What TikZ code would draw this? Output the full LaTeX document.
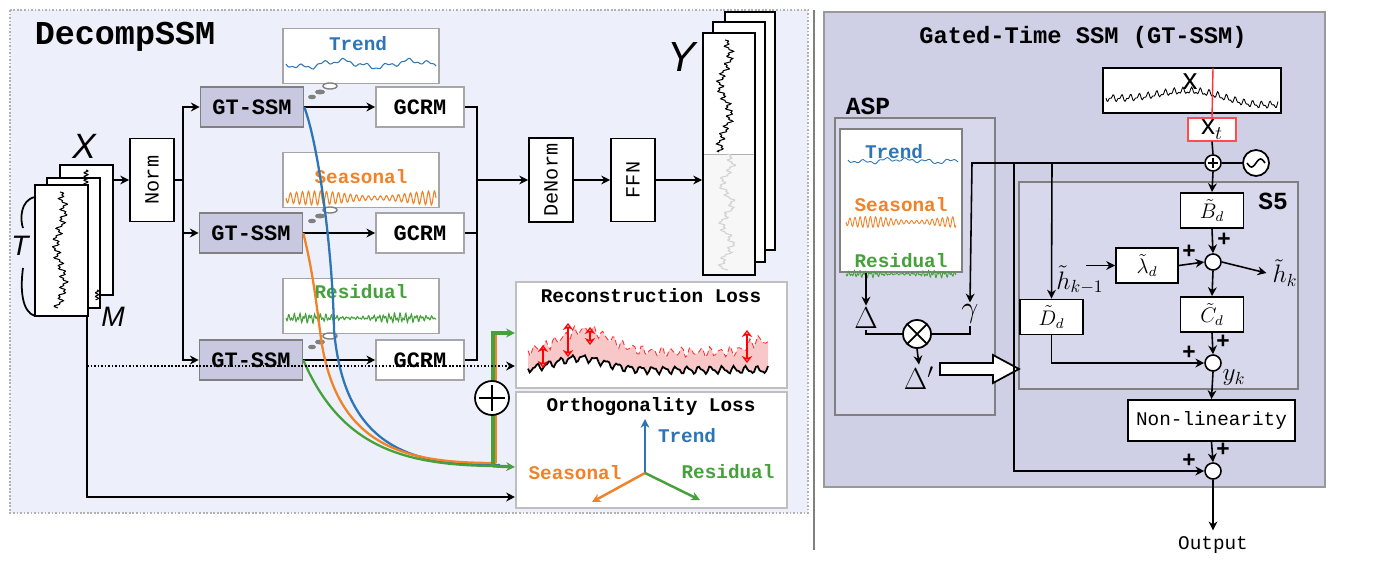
\documentclass[tikz,border=0pt]{standalone}
\usepackage{fontspec}
\usepackage{amsmath}
\newfontfamily\mono{Liberation Mono}
\newfontfamily\sansf{Liberation Sans}
\usetikzlibrary{arrows.meta,shapes.geometric,calc}
\definecolor{lpanel}{RGB}{237,240,250}
\definecolor{rpanel}{RGB}{207,207,230}
\definecolor{inner}{RGB}{216,216,236}
\definecolor{gtfill}{RGB}{200,200,224}
\definecolor{tblue}{RGB}{46,117,182}
\definecolor{torange}{RGB}{240,130,40}
\definecolor{tgreen}{RGB}{70,160,60}
\definecolor{pinkf}{RGB}{248,200,200}
\begin{document}
\begin{tikzpicture}[x=0.02cm,y=-0.02cm,
  arr/.style={-{Stealth[length=5pt,width=5pt]}},
  lw/.style={line width=0.9pt},
  bx/.style={draw,line width=1.1pt,fill=white,inner sep=0pt},
  gt/.style={draw=gray,line width=0.9pt,fill=gtfill,minimum width=2.06cm,minimum height=0.8cm,font=\mono\bfseries\fontsize{12.5}{12.5}\selectfont},
  gc/.style={draw=gray!70,line width=0.9pt,fill=white,minimum width=1.76cm,minimum height=0.8cm,font=\mono\bfseries\fontsize{12.5}{12.5}\selectfont},
  vb/.style={draw,line width=1.1pt,fill=white,minimum width=0.88cm,minimum height=1.66cm,font=\mono\fontsize{11.5}{11.5}\selectfont},
  comp/.style={draw=gray!70,line width=0.9pt,fill=white,minimum width=3.12cm,minimum height=1.1cm},
  ttl/.style={font=\mono\bfseries\fontsize{11}{11}\selectfont},
  sm/.style={draw,line width=0.9pt,circle,fill=white,minimum size=0.32cm,inner sep=0pt},
  mb/.style={draw,line width=1.1pt,fill=white,minimum width=1.26cm,minimum height=0.7cm,inner sep=0pt,font=\fontsize{12}{12}\selectfont},
  pl/.style={font=\sansf\bfseries\fontsize{13}{13}\selectfont},
]
\useasboundingbox (0,0) rectangle (1400,571);
\fill[white] (0,0) rectangle (1400,571);
% panels
\draw[gray!60,densely dotted,line width=1pt,fill=lpanel] (10,10) rectangle (808,513);
\draw[gray,line width=1.5pt] (814,10) -- (814,550);
\draw[gray!80,line width=1pt,fill=rpanel] (824,12) rectangle (1325,487);
% ============ LEFT ============
\node[font=\mono\bfseries\fontsize{19}{19}\selectfont] (title) at (125,37) {DecompSSM};
% X stack
\node[bx,minimum width=1.06cm,minimum height=2.6cm] (xb) at (86.5,230) {};
\node[bx,minimum width=1.06cm,minimum height=2.6cm] (xm) at (73.5,243) {};
\node[bx,minimum width=1.06cm,minimum height=2.62cm] (xf) at (61.5,250.5) {};
\draw[line width=0.6pt] plot[domain=0:116,samples=160] ({60+2.5*sin(\x*37)+1.5*sin(\x*97)+4*sin(\x*5)}, {192+\x});
\draw[line width=0.6pt] plot[domain=0:10,samples=30] ({97+1.5*sin(\x*97)}, {290+\x});
\draw[line width=0.6pt] plot[domain=0:15,samples=30] ({86+2*sin(\x*97)}, {170+\x});
\node[font=\sansf\itshape\fontsize{20}{20}\selectfont] (xl) at (84,146) {X};
\node[font=\sansf\itshape\fontsize{16}{16}\selectfont] (tl) at (20,246) {T};
\node[font=\sansf\itshape\fontsize{16}{16}\selectfont] (ml) at (113,317) {M};
\draw[line width=1pt] (35,197) .. controls (20,200) and (20,220) .. (23,228);
\draw[line width=1pt] (23,268) .. controls (20,290) and (22,312) .. (35,316);
% Norm
\node[vb] (norm) at (152,180) {\rotatebox{90}{Norm}};
\draw[arr,lw] (xb.east |- norm) -- (norm.west);
\coordinate (sp) at (183,180);
\draw[lw] (norm.east) -- (sp);
% GT-SSM / GCRM
\node[gt] (g1) at (252,107) {GT-SSM};
\node[gt] (g2) at (251,233) {GT-SSM};
\node[gt] (g3) at (251,360) {GT-SSM};
\node[gc] (c1) at (420,107) {GCRM};
\node[gc] (c2) at (420,233) {GCRM};
\node[gc] (c3) at (420,360) {GCRM};
\draw[arr,lw] (sp) |- (g1.west);
\draw[arr,lw] (sp) |- (g2.west);
\draw[arr,lw] (sp) |- (g3.west);
\foreach \i in {1,2,3}{\draw[arr,lw] (g\i.east) -- (c\i.west);}
\coordinate (mg) at (477,180);
\draw[lw] (c1.east) -| (mg);
\draw[lw] (c2.east) -| (mg);
\draw[lw] (c3.east) -| (mg);
\node[vb] (dn) at (551,180) {\rotatebox{90}{DeNorm}};
\node[vb] (ffn) at (633,180) {\rotatebox{90}{FFN}};
\draw[arr,lw] (mg) -- (dn.west);
\draw[arr,lw] (dn.east) -- (ffn.west);
% Y stack
\node[bx,minimum width=1.0cm,minimum height=4.76cm] (yb) at (750,131) {};
\node[bx,minimum width=1.04cm,minimum height=4.8cm] (ym) at (739,142) {};
\node[bx,minimum width=1.04cm,minimum height=4.84cm] (yf) at (729,154) {};
\fill[gray!6] (704,154) rectangle (754,274);
\draw[gray!60,line width=0.4pt] (704,154) -- (754,154);
\draw[line width=0.6pt] plot[domain=0:112,samples=140] ({725+2.5*sin(\x*41)+1.5*sin(\x*103)+5*sin(\x*6)}, {40+\x});
\draw[gray!35,line width=0.6pt] plot[domain=0:116,samples=140] ({727+2.5*sin(\x*41)+1.5*sin(\x*103)+5*sin(\x*9)}, {154+\x});
\draw[arr,lw] (ffn.east) -- (yf.west |- ffn.east);
\node[font=\sansf\itshape\fontsize{24}{24}\selectfont] (yl) at (682,57) {Y};
% component boxes
\node[comp] (tr) at (361,56) {};
\node[comp] (se) at (361,180) {};
\node[comp] (re) at (361,306) {};
\node[ttl,text=tblue] at (358,44) {Trend};
\node[ttl,text=torange] at (361,177) {Seasonal};
\node[ttl,text=tgreen] at (361,292) {Residual};
\draw[tblue,line width=0.6pt] plot[domain=0:150,samples=100] ({286+\x}, {64+3*sin(\x*5)+2*sin(\x*17)+1*sin(\x*43)});
\draw[torange,line width=0.6pt] plot[domain=0:150,samples=300] ({286+\x}, {198+(2+2.5*(1+sin(\x*3)))*sin(\x*60)});
\draw[tgreen,line width=0.6pt] plot[domain=0:150,samples=300] ({286+\x}, {318+(1.5+2*(1+sin(\x*4)))*sin(\x*97)*sin(\x*29+20)});
% bubbles
\foreach \yy in {86,210,336}{
  \draw[gray,fill=white,line width=0.8pt] (330,\yy) ellipse (7 and 3);
  \fill[gray] (320,\yy+6) ellipse (5 and 2.5);
  \fill[gray] (312,\yy+11) ellipse (4 and 2.3);
}
% losses
\node[draw=gray!50,line width=1.2pt,fill=white,minimum width=5.42cm,minimum height=2.12cm] (rec) at (651.5,335) {};
\node[draw=gray!50,line width=1.2pt,fill=white,minimum width=5.42cm,minimum height=2.32cm] (orth) at (651.5,450) {};
\node[ttl] at (651,296) {Reconstruction Loss};
\node[ttl] at (651,407) {Orthogonality Loss};
\fill[pinkf] plot[domain=0:240,samples=120] ({528+\x},{352-22*exp(-((\x-57)/35)^2)-12*exp(-((\x-232)/15)^2)+4*sin(\x*37)+2*sin(\x*53)}) -- plot[domain=240:0,samples=120] ({528+\x},{370-12*exp(-((\x-52)/35)^2)+3*sin(\x*31)+1.5*sin(\x*61)});
\draw[red!80,densely dashed,line width=0.5pt] plot[domain=0:240,samples=120] ({528+\x},{352-22*exp(-((\x-57)/35)^2)-12*exp(-((\x-232)/15)^2)+4*sin(\x*37)+2*sin(\x*53)});
\draw[line width=1pt] plot[domain=0:240,samples=140] ({528+\x},{370-12*exp(-((\x-52)/35)^2)+3*sin(\x*31)+1.5*sin(\x*61)});
\foreach \xx/\ya/\yb in {543/345/368,568/323/357,590/327/345,747/330/363}{
  \draw[red,line width=0.8pt,{Stealth[length=4pt,width=6pt,open]}-{Stealth[length=4pt,width=6pt,open]}] (\xx,\ya) -- (\xx,\yb);
}
\coordinate (oo) at (645,473);
\draw[tblue,line width=1.4pt,arr] (oo) -- (645,419);
\draw[torange,line width=1.4pt,arr] (oo) -- (592,502);
\draw[tgreen,line width=1.4pt,arr] (oo) -- (700,500);
\node[ttl,text=tblue] at (687,436) {Trend};
\node[ttl,text=torange] at (575,473) {Seasonal};
\node[ttl,text=tgreen] at (728,472) {Residual};
% colored curves
\draw[tblue,line width=1.3pt] (g1.east) .. controls (320,150) and (333,260) .. (334,330) .. controls (345,455) and (420,465) .. (500,465);
\draw[torange,line width=1.3pt] (g2.east) .. controls (315,280) and (318,320) .. (322,345) .. controls (340,450) and (410,463) .. (496,463);
\draw[torange,line width=1.3pt] (496,463) -- (496,333);
\draw[tgreen,line width=1.3pt] (g3.east) .. controls (340,445) and (400,465) .. (493,466);
\draw[tgreen,line width=1.8pt,arr] (493,466) -- (493,333) -- (rec.west |- 0,333);
\draw[tgreen,line width=1.8pt,arr] (493,466) -- (orth.west |- 0,467);
\node[draw,line width=1pt,circle,fill=white,minimum size=0.68cm,inner sep=0pt] (plus) at (492,398) {};
\draw[line width=1pt] ($(plus)+(0,-13)$) -- ($(plus)+(0,13)$) ($(plus)+(-13,0)$) -- ($(plus)+(13,0)$);
% x bypass lines
\coordinate (dt) at (87,366);
\coordinate (bl) at (87,497);
\draw[densely dotted,line width=1pt,arr] (dt) -- (rec.west |- dt);
\draw[lw,arr] (xf.south east -| bl) -- (bl) -- (orth.west |- bl);
% ============ RIGHT ============
\node[font=\mono\bfseries\fontsize{13.5}{13.5}\selectfont] (rt) at (1083,37) {Gated-Time SSM (GT-SSM)};
\node[font=\mono\bfseries\fontsize{14}{14}\selectfont] (aspl) at (868,106) {ASP};
\draw[gray,line width=0.8pt,fill=inner] (835,118) rectangle (995,415);
\draw[gray,line width=0.8pt,fill=inner] (1019,182) rectangle (1298,389);
\node[font=\mono\bfseries\fontsize{14}{14}\selectfont] (s5l) at (1273,201) {S5};
% ASP components
\node[draw=gray,line width=0.9pt,fill=white,minimum width=2.44cm,minimum height=2.86cm] (aspc) at (901,200.5) {};
\node[ttl,text=tblue] at (894,152) {Trend};
\node[ttl,text=torange] at (901,205) {Seasonal};
\node[ttl,text=tgreen] at (901,261) {Residual};
\draw[tblue,line width=0.5pt] plot[domain=0:110,samples=80] ({848+\x}, {160+2*sin(\x*5)+1.5*sin(\x*17)+1*sin(\x*43)+2*exp(-((\x-57)/12)^2)});
\draw[torange,line width=0.5pt] plot[domain=0:110,samples=250] ({846+\x}, {222+(1.5+2*(1+sin(\x*4)))*sin(\x*70)});
\draw[tgreen,line width=0.5pt] plot[domain=0:110,samples=250] ({846+\x}, {274+(1+1.5*(1+sin(\x*5)))*sin(\x*97)*sin(\x*29+20)});
\node[font=\fontsize{17}{17}\selectfont,inner sep=1pt] (dl) at (866,318) {$\Delta$};
\node[font=\fontsize{17}{17}\selectfont,inner sep=1pt] (gam) at (970,314) {$\gamma$};
\node[draw,line width=1pt,circle,fill=white,minimum size=0.56cm,inner sep=0pt] (ot) at (917,334) {};
\draw[line width=1pt] ($(ot)+(-10,-10)$) -- ($(ot)+(10,10)$) ($(ot)+(-10,10)$) -- ($(ot)+(10,-10)$);
\node[font=\fontsize{17}{17}\selectfont,inner sep=1pt] (dp) at (919,378) {$\Delta'$};
\draw[arr,lw] (aspc.south -| dl) -- (dl.north);
\draw[lw] (dl.south) |- (ot.west);
\draw[lw] (gam.south) |- (ot.east);
\draw[arr,lw] (ot.south) -- (dp.north);
\draw[line width=1pt,fill=white] (940,363) -- (993,363) -- (993,355) -- (1019,369) -- (993,383) -- (993,375) -- (940,375) -- cycle;
% x input
\node[draw,line width=1.6pt,fill=white,minimum width=3.56cm,minimum height=0.9cm] (xbox) at (1192,90.5) {};
\draw[line width=0.5pt] plot[domain=0:172,samples=200] ({1106+\x}, {98+3*sin(\x*3)+2.5*sin(\x*41)+1.5*sin(\x*83)-5*sin(\x*1.5)});
\node[font=\sansf\fontsize{17}{17}\selectfont] at (1190,82) {x};
\node[draw=red!70,line width=0.8pt,fill=white,minimum width=0.96cm,minimum height=0.46cm,inner sep=0pt,font=\sansf\fontsize{16}{16}\selectfont] (xt) at (1212,129.5) {x$_t$};
\draw[red!80,line width=0.8pt] (1213,68) -- (xt.north);
\node[sm] (p1) at (1213,163) {};
\draw[line width=0.8pt] ($(p1)+(-5,0)$) -- ($(p1)+(5,0)$) ($(p1)+(0,-5)$) -- ($(p1)+(0,5)$);
\node[draw,line width=1pt,circle,fill=white,minimum size=0.52cm,inner sep=0pt] (sn) at (1256,163) {};
\draw[line width=0.9pt] plot[domain=-9:9,samples=30] ({1256+\x},{163-4*sin(\x*20)});
\draw[lw] (xt.south) -- (p1.north);
\draw[lw] (sn.west) -- (p1.east);
\coordinate (gl) at (972,163);
\draw[arr,lw] (p1.west) -- (gl) -- (gam.north);
% S5
\node[mb] (bd) at (1212,210.5) {$\tilde{B}_d$};
\node[sm] (s1) at (1213,262) {};
\node[mb,minimum width=1.24cm] (ld) at (1147,265.5) {$\tilde{\lambda}_d$};
\node[mb] (cd) at (1212,314.5) {$\tilde{C}_d$};
\node[mb] (dd) at (1051.5,317) {$\tilde{D}_d$};
\node[sm] (s2) at (1213,363) {};
\node[draw,line width=1.1pt,fill=white,minimum width=3.34cm,minimum height=0.82cm,font=\mono\fontsize{11}{11}\selectfont] (nl) at (1211.5,420.5) {Non-linearity};
\node[sm] (s3) at (1213,471) {};
\node[font=\mono\fontsize{11}{11}\selectfont] (out) at (1213,545) {Output};
\node[font=\fontsize{14}{14}\selectfont] (hkm) at (1080,280) {$\tilde{h}_{k-1}$};
\node[font=\fontsize{14}{14}\selectfont] (hk) at (1285,273) {$\tilde{h}_{k}$};
\node[font=\fontsize{14}{14}\selectfont] (yk) at (1234,378) {$y_k$};
\draw[arr,lw] (p1.south) -- (bd.north);
\draw[arr,lw] (bd.south) -- (s1.north);
\draw[arr,lw] (ld.east) -- (s1.west);
\draw[arr,lw] (s1.east) -- (hk.west);
\coordinate (hs) at (1086,265.5);
\draw[arr,lw] (hs) -- (ld.west);
\draw[arr,lw] (s1.south) -- (cd.north);
\draw[arr,lw] (cd.south) -- (s2.north);
\draw[arr,lw] (dd.south) |- (s2.west);
\draw[arr,lw] (s2.south) -- (nl.north);
\draw[arr,lw] (nl.south) -- (s3.north);
\draw[arr,lw] (s3.south) -- (out.north);
\coordinate (bd1) at (1052,163);
\coordinate (bd2) at (1014,163);
\draw[arr,lw] (bd1) -- (dd.north);
\draw[arr,lw] (bd2) |- (s3.west);
\foreach \px/\py in {1224/240, 1189/252, 1223/342, 1189/353, 1223/450, 1189/461}{
  \node[pl] at (\px,\py) {+};
}
\end{tikzpicture}
\end{document}
